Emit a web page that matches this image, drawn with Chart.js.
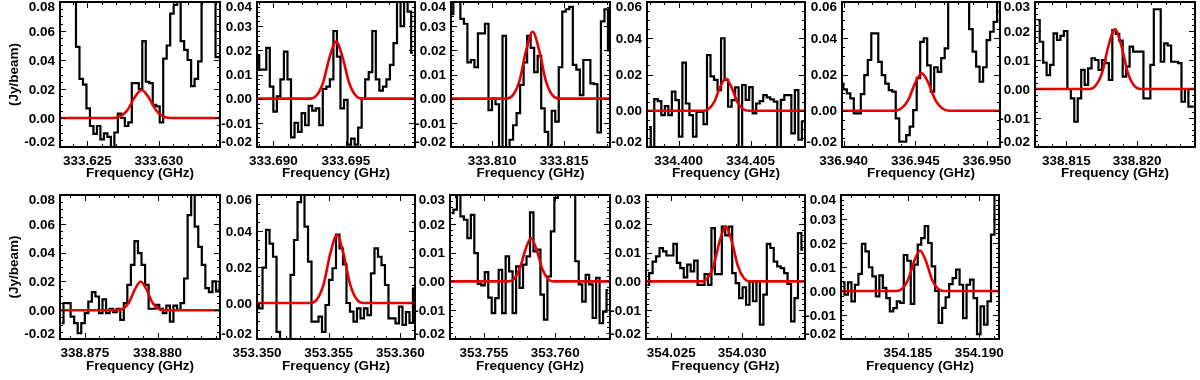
<!DOCTYPE html>
<html>
<head>
<meta charset="utf-8">
<title>Line fits</title>
<script src="https://cdn.jsdelivr.net/npm/chart.js"></script>
<style>
  body { margin: 0; background: #fff; width: 1200px; height: 380px; overflow: hidden; position: relative; }
  canvas { position: absolute; }
</style>
</head>
<body>
<script>
// width of one spectral channel (GHz)
const channelWidth = 0.000244;

// centre frequency of the first channel of each spectrum (GHz)
const firstChannel = [
  333.62310, 333.68890, 333.80719, 334.39794, 336.93985, 338.81300,
  338.87341, 353.35002, 353.75274, 354.02332, 354.18045
];

// observed flux per channel (Jy/beam)
const flux1 = [0.10, 0.10, 0.10, 0.10, 0.10, 0.049, 0.027, 0.023, 0.0067, -0.0055, -0.011, -0.0055, -0.0147, -0.0106, -0.013, -0.022, -0.01, 0.003, 0.0, -0.0055, -0.003, 0.024, 0.024, 0.020, 0.053, 0.025, 0.024, 0.009, 0.008, -0.003, 0.041, 0.05, 0.072, 0.078, 0.10, 0.053, 0.047, 0.040, 0.022, 0.027, 0.039, 0.10, 0.10, 0.10, 0.10, 0.042, 0.042];
const flux2 = [0.018, 0.012, 0.012, 0.021, 0.005, -0.0054, 0.001, 0.008, 0.0195, 0.008, -0.016, -0.010, -0.0137, -0.006, -0.011, -0.003, -0.005, -0.004, -0.011, 0.004, 0.005, 0.008, 0.028, 0.0174, -0.004, -0.0005, -0.019, -0.0165, -0.019, -0.012, 0.000, 0.008, 0.011, 0.028, 0.008, 0.0033, 0.005, 0.008, 0.014, 0.023, 0.045, 0.030, 0.045, 0.036, 0.019];
const flux3 = [0.035, 0.042, 0.042, 0.033, 0.031, 0.015, 0.016, 0.013, 0.027, 0.027, 0.031, -0.0047, 0.000, -0.0023, -0.022, 0.026, -0.022, -0.017, -0.011, -0.006, 0.0057, 0.015, 0.026, 0.021, 0.011, 0.0177, -0.004, -0.0137, -0.022, -0.005, -0.0095, 0.013, 0.036, 0.037, 0.038, 0.014, 0.012, 0.0015, 0.016, 0.016, 0.0063, 0.006, -0.014, 0.032, 0.037, 0.02];
const flux4 = [-0.009, -0.022, 0.0064, 0.0053, -0.0024, 0.0026, -0.0024, 0.0105, 0.0059, -0.0143, 0.0265, 0.004, -0.0024, -0.0143, -0.0006, -0.0006, -0.0074, 0.0307, 0.019, 0.017, 0.0114, 0.040, 0.017, 0.0022, 0.0059, 0.0129, -0.022, 0.0142, 0.006, 0.013, -0.0015, 0.004, 0.0053, 0.0086, 0.0074, 0.0063, 0.005, -0.022, 0.006, 0.0086, 0.0086, -0.0125, 0.0114, -0.016, -0.006];
const flux5 = [0.015, 0.0118, 0.0096, 0.0068, -0.0015, -0.0015, 0.0092, 0.0197, 0.028, 0.0427, 0.0427, 0.027, 0.0197, 0.015, 0.0114, 0.0105, -0.0042, -0.017, -0.017, -0.0134, -0.0088, 0.0004, 0.018, 0.038, 0.040, 0.025, 0.0105, 0.024, 0.0215, 0.029, 0.0344, 0.07, 0.07, 0.07, 0.07, 0.07, 0.07, 0.045, 0.0326, 0.0243, 0.016, 0.024, 0.039, 0.0436, 0.049, 0.065];
const flux6 = [0.0238, 0.0163, 0.0091, 0.0048, 0.0083, 0.0192, 0.0169, 0.0183, 0.020, 0.0, -0.0032, -0.0113, -0.0032, 0.0066, 0.0014, 0.0071, 0.0106, 0.010, 0.0066, 0.010, 0.0089, 0.0031, 0.0203, 0.019, 0.0167, 0.0043, 0.0077, 0.0146, 0.0129, 0.0129, 0.0129, -0.0032, -0.0032, 0.0083, 0.0275, 0.0275, 0.0094, 0.0157, 0.0150, 0.0094, 0.0094, 0.0089, -0.0044, 0.0, -0.0061, -0.0061];
const flux7 = [-0.009, 0.005, 0.0049, -0.0044, -0.009, -0.016, -0.009, -0.002, 0.006, 0.0125, 0.0095, -0.002, 0.0075, -0.002, 0.001, -0.0014, 0.001, -0.0067, 0.0049, 0.0176, 0.0315, 0.048, 0.0396, 0.0315, 0.0176, 0.001, 0.001, 0.0037, 0.001, -0.002, 0.0032, -0.0079, 0.0032, 0.0002, 0.0049, 0.022, 0.066, 0.09, 0.058, 0.044, 0.0315, 0.0153, 0.0125, 0.02, 0.013, 0.02];
const flux8 = [0.0, -0.003, 0.0196, 0.0406, 0.033, 0.0257, -0.016, -0.025, -0.025, -0.022, 0.0156, 0.035, 0.056, 0.08, 0.0424, 0.023, -0.0104, -0.0104, -0.0076, -0.016, -0.0011, 0.0128, 0.0193, 0.038, 0.0304, 0.0215, 0.0, -0.0048, -0.0104, -0.003, -0.0085, -0.003, -0.0067, 0.0165, 0.0304, 0.0257, 0.021, 0.01, -0.0085, -0.0085, -0.0113, -0.002, -0.0122, -0.005, -0.011, 0.008];
const flux9 = [0.0237, 0.0249, 0.035, 0.0226, 0.0214, 0.015, 0.0231, 0.0098, -0.0009, -0.0014, 0.0032, -0.0056, -0.011, -0.0058, 0.004, -0.011, 0.0087, 0.0035, -0.011, 0.0052, -0.0023, 0.0058, 0.0087, 0.024, 0.0104, 0.011, -0.0046, -0.0133, 0.0017, 0.0174, 0.029, 0.04, 0.04, 0.04, 0.04, 0.04, 0.007, -0.001, -0.007, 0.0023, -0.001, -0.0127, 0.0012, -0.0145, -0.0105, -0.003];
const flux10 = [-0.0012, 0.0029, 0.0069, 0.0087, 0.0116, 0.0104, 0.009, 0.009, 0.013, 0.0064, 0.0046, 0.0014, 0.0058, 0.0035, 0.0072, -0.0012, -0.0012, 0.0025, -0.0012, 0.0185, 0.0025, 0.0025, 0.019, 0.016, 0.019, 0.0029, -0.0006, -0.0058, -0.0021, -0.0081, 0.0, -0.0069, 0.0, -0.015, -0.0046, 0.013, 0.0116, 0.0069, 0.0052, 0.0046, 0.0029, -0.0009, -0.0139, -0.0058, 0.0168, 0.011];
const flux11 = [0.0036, -0.0015, 0.0036, -0.0043, 0.0026, 0.0071, 0.0196, 0.0165, 0.0099, 0.0061, -0.0022, 0.0065, 0.0013, -0.003, -0.0085, -0.0071, -0.0043, -0.005, 0.015, 0.0126, -0.0054, 0.011, 0.0193, 0.022, 0.027, 0.02, 0.0103, 0.0, -0.0133, -0.007, -0.0026, 0.0029, 0.0054, 0.0089, 0.0026, -0.0113, 0.0026, 0.0047, -0.003, -0.018, -0.0064, -0.014, -0.0043, 0.0235, 0.045, 0.045];
const spectra = [flux1, flux2, flux3, flux4, flux5, flux6, flux7, flux8, flux9, flux10, flux11];

// fitted line profile, sampled off the red curves (GHz, Jy/beam)
const fitFreq1 = [333.6230, 333.62679, 333.62729, 333.62779, 333.62829, 333.62879, 333.62929, 333.62979, 333.63029, 333.63079, 333.6345];
const fitFlux1 = [0, 0, 0.0011, 0.0054, 0.0140, 0.0193, 0.0140, 0.0054, 0.0011, 0, 0];
const fitFreq2 = [333.6888, 333.69253, 333.69298, 333.69343, 333.69388, 333.69433, 333.69478, 333.69523, 333.69568, 333.69613, 333.7000];
const fitFlux2 = [0, 0, 0.0013, 0.0066, 0.0171, 0.0236, 0.0171, 0.0066, 0.0013, 0, 0];
const fitFreq3 = [333.8071, 333.81102, 333.81147, 333.81192, 333.81237, 333.81282, 333.81327, 333.81372, 333.81417, 333.81462, 333.8183];
const fitFlux3 = [0, 0, 0.0016, 0.0077, 0.0201, 0.0277, 0.0201, 0.0077, 0.0016, 0, 0];
const fitFreq4 = [334.3977, 334.40167, 334.40207, 334.40247, 334.40287, 334.40327, 334.40367, 334.40407, 334.40447, 334.40487, 334.4089];
const fitFlux4 = [0, 0, 0.0010, 0.0049, 0.0129, 0.0178, 0.0129, 0.0049, 0.0010, 0, 0];
const fitFreq5 = [336.9398, 336.94353, 336.94401, 336.94449, 336.94497, 336.94545, 336.94593, 336.94641, 336.94689, 336.94737, 336.9510];
const fitFlux5 = [0, 0, 0.0012, 0.0057, 0.0150, 0.0206, 0.0150, 0.0057, 0.0012, 0, 0];
const fitFreq6 = [338.8127, 338.81663, 338.81708, 338.81753, 338.81798, 338.81843, 338.81888, 338.81933, 338.81978, 338.82023, 338.8241];
const fitFlux6 = [0, 0, 0.0012, 0.0057, 0.0150, 0.0206, 0.0150, 0.0057, 0.0012, 0, 0];
const fitFreq7 = [338.8732, 338.87724, 338.87764, 338.87804, 338.87844, 338.87884, 338.87924, 338.87964, 338.88004, 338.88044, 338.8844];
const fitFlux7 = [0, 0, 0.0011, 0.0055, 0.0144, 0.0199, 0.0144, 0.0055, 0.0011, 0, 0];
const fitFreq8 = [353.3500, 353.35373, 353.35419, 353.35465, 353.35511, 353.35557, 353.35603, 353.35649, 353.35695, 353.35741, 353.3612];
const fitFlux8 = [0, 0, 0.0021, 0.0105, 0.0274, 0.0378, 0.0274, 0.0105, 0.0021, 0, 0];
const fitFreq9 = [353.7526, 353.7567, 353.7571, 353.7575, 353.7579, 353.7583, 353.7587, 353.7591, 353.7595, 353.7599, 353.7639];
const fitFlux9 = [0, 0, 0.0008, 0.0042, 0.0109, 0.0150, 0.0109, 0.0042, 0.0008, 0, 0];
const fitFreq10 = [354.0232, 354.02712, 354.02755, 354.02798, 354.02841, 354.02884, 354.02927, 354.02970, 354.03013, 354.03056, 354.0345];
const fitFlux10 = [0, 0, 0.0011, 0.0053, 0.0139, 0.0191, 0.0139, 0.0053, 0.0011, 0, 0];
const fitFreq11 = [354.1803, 354.18418, 354.18460, 354.18502, 354.18544, 354.18586, 354.18628, 354.18670, 354.18712, 354.18754, 354.1914];
const fitFlux11 = [0, 0, 0.0009, 0.0047, 0.0123, 0.0169, 0.0123, 0.0047, 0.0009, 0, 0];
const fitFreqs = [fitFreq1, fitFreq2, fitFreq3, fitFreq4, fitFreq5, fitFreq6, fitFreq7, fitFreq8, fitFreq9, fitFreq10, fitFreq11];
const fitFluxes = [fitFlux1, fitFlux2, fitFlux3, fitFlux4, fitFlux5, fitFlux6, fitFlux7, fitFlux8, fitFlux9, fitFlux10, fitFlux11];

// axis ranges
const xMin = [333.62308, 333.68887, 333.80715, 334.3978, 336.93988, 338.81279, 338.87329, 353.35, 353.75262, 354.02322, 354.18033];
const xMax = [333.63427, 333.69978, 333.81819, 334.40877, 336.95091, 338.82408, 338.88430, 353.36102, 353.76384, 354.03443, 354.19138];
const yMin = [-0.02, -0.02, -0.02, -0.02, -0.02, -0.02, -0.02, -0.02, -0.02, -0.02, -0.02];
const yMax = [0.08, 0.04, 0.04, 0.06, 0.06, 0.03, 0.08, 0.06, 0.03, 0.03, 0.04];
const yStep = [0.02, 0.01, 0.01, 0.02, 0.02, 0.01, 0.02, 0.02, 0.01, 0.01, 0.01];

// plot frame of each panel on the page: left, top, width, height
const frames = [
  [60, 2, 160, 145], [257, 2, 158, 145], [451, 2, 159, 145], [647, 2, 158, 145], [842, 2, 158, 145], [1035, 2, 160, 145],
  [60, 195, 160, 144], [257, 195, 158, 144], [450, 195, 160, 144], [646, 195, 159, 144], [841, 195, 158, 144]
];

const FAMILY = '"Liberation Sans", Arial, Helvetica, sans-serif';
const labelFont = { family: FAMILY, size: 13.5, weight: 'bold' };
Chart.defaults.color = '#000';

// IDL-like box: thick frame, inward ticks on all sides, y labels kept inside the box height
const boxAxes = {
  id: 'boxAxes',
  afterDatasetsDraw(chart) {
    const { ctx, chartArea: a, scales: { x, y } } = chart;
    const step = chart.options.scales.y.ticks.stepSize;
    const yMinor = step / (step > 0.015 ? 4 : 5);
    ctx.save();
    ctx.strokeStyle = '#000';
    ctx.lineWidth = 1;
    ctx.beginPath();
    // x ticks, minor every 0.001 GHz
    for (let k = Math.ceil(x.min / 0.001 - 1e-6); k * 0.001 <= x.max + 1e-9; k++) {
      const px = Math.round(x.getPixelForValue(k * 0.001)) + 0.5;
      const len = k % 5 === 0 ? 6 : 3;
      ctx.moveTo(px, a.bottom); ctx.lineTo(px, a.bottom - len);
      ctx.moveTo(px, a.top); ctx.lineTo(px, a.top + len);
    }
    // y ticks
    for (let k = Math.ceil(y.min / yMinor - 1e-6); k * yMinor <= y.max + 1e-9; k++) {
      const v = k * yMinor;
      const py = Math.round(y.getPixelForValue(v)) + 0.5;
      const major = y.ticks.some(t => Math.abs(t.value - v) < yMinor / 10);
      const len = major ? 6 : 3;
      ctx.moveTo(a.left, py); ctx.lineTo(a.left + len, py);
      ctx.moveTo(a.right, py); ctx.lineTo(a.right - len, py);
    }
    ctx.stroke();

    ctx.lineWidth = 2;
    ctx.strokeRect(a.left, a.top, a.right - a.left, a.bottom - a.top);

    ctx.fillStyle = '#000';
    ctx.font = 'bold 13.5px ' + FAMILY;
    ctx.textAlign = 'right';
    ctx.textBaseline = 'middle';
    y.ticks.forEach(t => {
      let py = y.getPixelForValue(t.value) + 1;
      py = Math.min(Math.max(py, a.top + 5), a.bottom - 5);
      ctx.fillText(t.value.toFixed(2), a.left - 5, py);
    });
    ctx.restore();
  }
};

const ROW_H = 190;

frames.forEach((f, i) => {
  const row = i < 6 ? 0 : 1;
  const firstCol = i === 0 || i === 6;
  const top = row * ROW_H;
  const canvas = document.createElement('canvas');
  canvas.width = 60 + f[2] + 35;
  canvas.height = ROW_H;
  canvas.style.left = (f[0] - 60) + 'px';
  canvas.style.top = top + 'px';
  document.body.appendChild(canvas);

  const axisH = ROW_H - (f[1] - top) - f[3];
  const specPoints = spectra[i].map((v, k) => ({ x: firstChannel[i] + k * channelWidth, y: v }));
  const fitPoints = fitFreqs[i].map((fq, k) => ({ x: fq, y: fitFluxes[i][k] }));

  new Chart(canvas, {
    type: 'line',
    data: {
      datasets: [
        {
          data: fitPoints,
          borderColor: '#e60000',
          borderWidth: 2.6,
          pointRadius: 0,
          cubicInterpolationMode: 'monotone',
          clip: 0
        },
        {
          data: specPoints,
          borderColor: '#000',
          borderWidth: 2.2,
          pointRadius: 0,
          stepped: 'middle',
          clip: 0
        }
      ]
    },
    options: {
      responsive: false,
      animation: false,
      devicePixelRatio: 1,
      layout: { padding: { left: 0, right: 35, top: f[1] - top, bottom: 0 } },
      plugins: { legend: { display: false }, tooltip: { enabled: false } },
      scales: {
        x: {
          type: 'linear',
          min: xMin[i],
          max: xMax[i],
          grid: { display: false, drawTicks: false },
          border: { display: false },
          ticks: {
            stepSize: 0.005,
            includeBounds: false,
            autoSkip: false,
            maxRotation: 0,
            padding: 6,
            color: '#000',
            font: labelFont,
            callback: v => v.toFixed(3)
          },
          title: {
            display: true,
            text: 'Frequency (GHz)',
            color: '#000',
            font: labelFont,
            padding: { top: 0, bottom: row ? 6 : 9 }
          },
          afterFit: s => { s.height = axisH; }
        },
        y: {
          type: 'linear',
          min: yMin[i],
          max: yMax[i],
          grid: { display: false, drawTicks: false },
          border: { display: false },
          ticks: { display: false, stepSize: yStep[i] },
          title: {
            display: firstCol,
            text: '(Jy/beam)',
            color: '#000',
            font: labelFont,
            padding: { top: 6, bottom: 0 }
          },
          afterFit: s => { s.width = 60; }
        }
      }
    },
    plugins: [boxAxes]
  });
});
</script>
</body>
</html>
